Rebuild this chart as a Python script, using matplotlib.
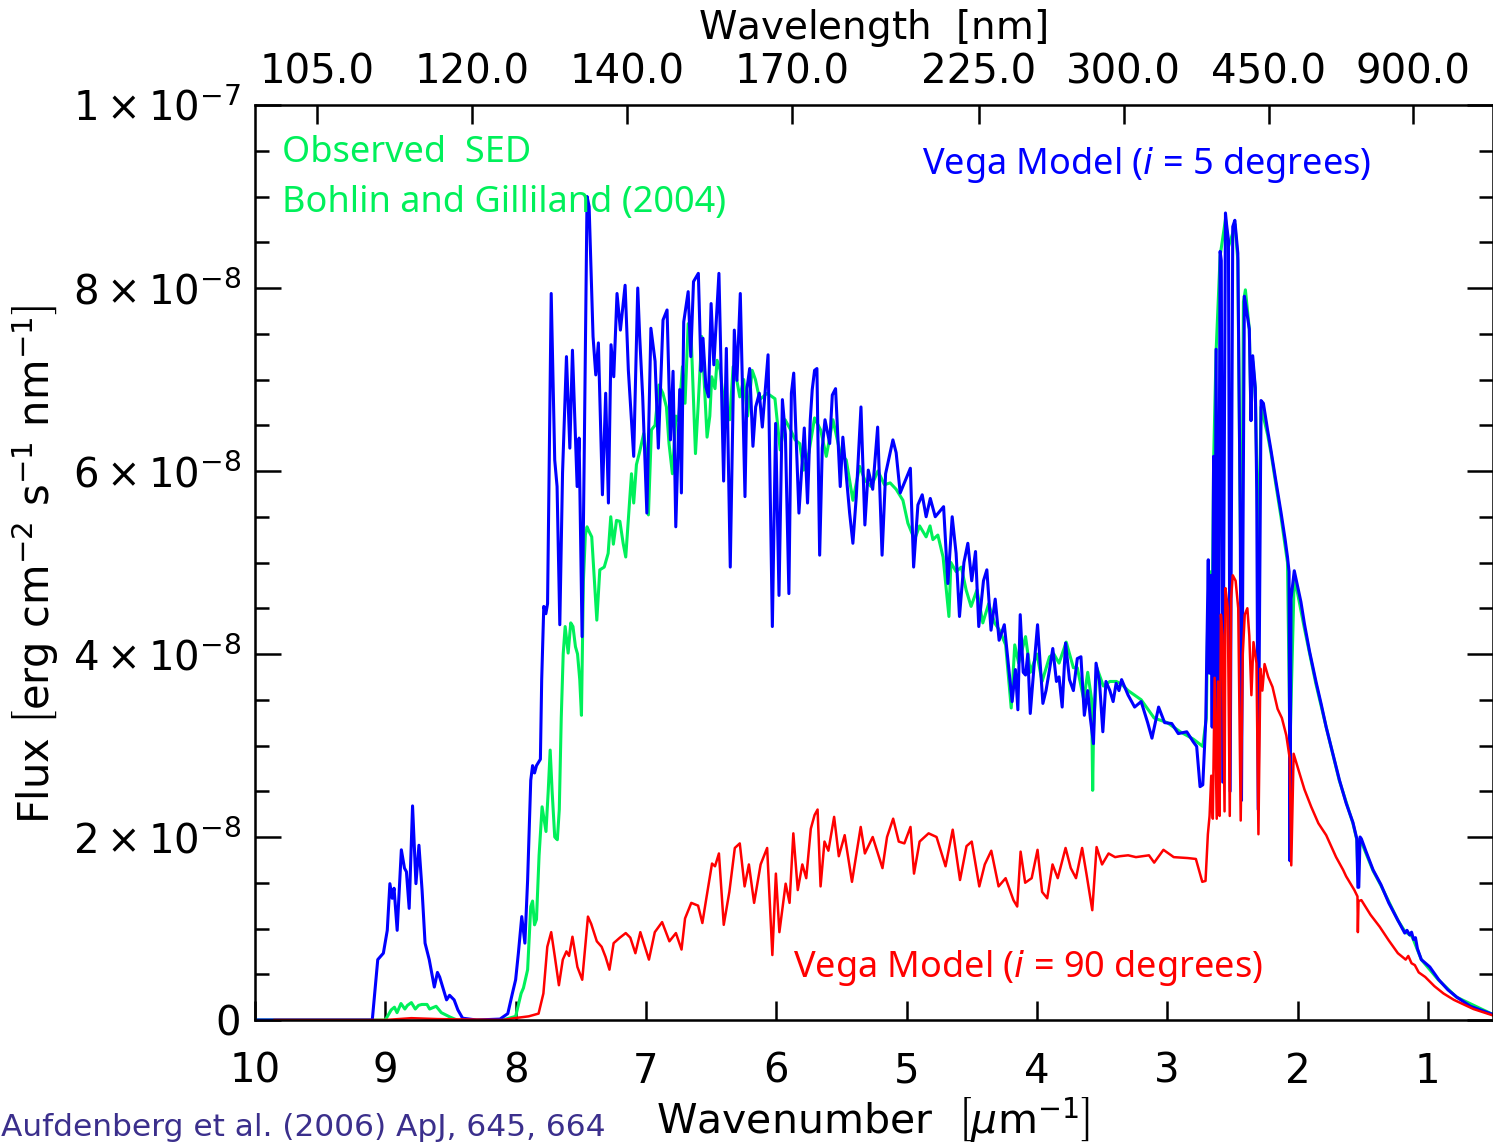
import matplotlib
matplotlib.use('Agg')
import matplotlib.pyplot as plt
import numpy as np
from matplotlib.ticker import MultipleLocator

# wavenumber [1/um] and flux [1e-8 erg cm-2 s-1 nm-1]
blue_wn = [10.0, 9.10, 9.058, 9.015, 8.985, 8.965, 8.947, 8.933, 8.909, 8.877, 8.853, 8.838, 8.817, 8.791,
           8.765, 8.742, 8.718, 8.695, 8.663, 8.624, 8.60, 8.583, 8.56, 8.53, 8.507, 8.472, 8.443, 8.407,
           8.30, 8.12, 8.06, 8.025, 8.00, 7.979, 7.953, 7.929, 7.908, 7.884, 7.87, 7.855, 7.84, 7.81,
           7.80, 7.784, 7.768, 7.755, 7.727, 7.70, 7.682, 7.661, 7.64, 7.61, 7.584, 7.564, 7.528, 7.513,
           7.49, 7.475, 7.452, 7.436, 7.406, 7.385, 7.365, 7.334, 7.309, 7.288, 7.268, 7.247, 7.222,
           7.196, 7.16, 7.135, 7.094, 7.063, 7.048, 7.025, 6.993, 6.962, 6.93, 6.905, 6.869, 6.838,
           6.812, 6.792, 6.771, 6.741, 6.728, 6.71, 6.676, 6.656, 6.635, 6.598, 6.577, 6.562, 6.54,
           6.52, 6.50, 6.479, 6.44, 6.404, 6.383, 6.353, 6.322, 6.302, 6.276, 6.24, 6.225, 6.204,
           6.179, 6.158, 6.13, 6.107, 6.063, 6.03, 6.005, 5.979, 5.953, 5.93, 5.903, 5.884, 5.866,
           5.826, 5.785, 5.76, 5.739, 5.724, 5.706, 5.688, 5.667, 5.647, 5.626, 5.59, 5.57, 5.545,
           5.509, 5.489, 5.437, 5.412, 5.386, 5.35, 5.32, 5.294, 5.26, 5.222, 5.188, 5.161, 5.105,
           5.08, 5.049, 4.971, 4.946, 4.913, 4.88, 4.85, 4.818, 4.78, 4.716, 4.683, 4.65, 4.62,
           4.594, 4.56, 4.53, 4.50, 4.471, 4.446, 4.41, 4.384, 4.352, 4.32, 4.29, 4.25, 4.22, 4.19,
           4.165, 4.146, 4.128, 4.105, 4.087, 4.07, 4.051, 4.02, 3.995, 3.975, 3.954, 3.93, 3.903,
           3.878, 3.85, 3.83, 3.806, 3.78, 3.75, 3.72, 3.69, 3.662, 3.636, 3.61, 3.59, 3.566, 3.546,
           3.52, 3.494, 3.47, 3.44, 3.415, 3.392, 3.37, 3.35, 3.30, 3.25, 3.20, 3.15, 3.117, 3.066,
           3.02, 2.965, 2.915, 2.85, 2.80, 2.774, 2.748, 2.727, 2.704, 2.685, 2.677, 2.664, 2.655,
           2.644, 2.635, 2.625, 2.61, 2.594, 2.585, 2.574, 2.553, 2.545, 2.53, 2.517, 2.497, 2.481,
           2.458, 2.44, 2.43, 2.408, 2.395, 2.37, 2.357, 2.344, 2.324, 2.313, 2.302, 2.28, 2.262,
           2.23, 2.204, 2.166, 2.127, 2.095, 2.077, 2.065, 2.058, 2.05, 2.025, 1.974, 1.947, 1.908,
           1.857, 1.818, 1.78, 1.729, 1.678, 1.627, 1.575, 1.545, 1.537, 1.53, 1.52, 1.51, 1.474,
           1.42, 1.36, 1.30, 1.23, 1.177, 1.16, 1.14, 1.125, 1.11, 1.095, 1.08, 1.05, 0.985, 0.916,
           0.846, 0.778, 0.673, 0.5]
blue_flux = [0.0, 0.0, 0.66, 0.73, 0.98, 1.49, 1.33, 1.44, 0.98, 1.86, 1.66, 1.62, 1.22, 2.34,
             1.49, 1.91, 1.42, 0.84, 0.66, 0.36, 0.52, 0.47, 0.36, 0.22, 0.27, 0.22, 0.11, 0.02,
             0.0, 0.01, 0.07, 0.29, 0.44, 0.73, 1.13, 0.84, 1.53, 2.62, 2.78, 2.70, 2.78, 2.85,
             3.72, 4.52, 4.44, 4.55, 7.94, 6.12, 5.83, 4.32, 5.98, 7.25, 6.25, 7.32, 5.83, 6.36,
             4.19, 6.0, 9.0, 8.89, 7.47, 7.05, 7.40, 5.74, 6.85, 5.65, 7.38, 7.03, 7.94,
             7.54, 8.03, 7.10, 6.16, 8.0, 7.47, 6.81, 5.54, 7.56, 7.2, 6.25, 7.65, 7.76,
             6.34, 7.09, 5.39, 6.89, 5.76, 7.63, 7.96, 7.25, 8.07, 8.16, 7.09, 7.45, 6.92,
             6.81, 7.83, 7.16, 8.16, 5.89, 7.34, 4.95, 7.54, 6.99, 7.94, 5.72, 6.90, 7.12,
             6.27, 6.70, 6.85, 6.48, 7.27, 4.30, 6.52, 4.64, 6.78, 6.4, 4.66, 6.85, 7.07,
             5.54, 6.47, 5.65, 6.56, 6.89, 7.10, 7.12, 5.08, 6.25, 6.56, 6.3, 6.83, 6.90,
             5.83, 6.37, 5.54, 5.21, 5.72, 6.70, 5.41, 6.01, 5.8, 6.48, 5.08, 5.97, 6.34,
             6.2, 5.76, 6.03, 4.95, 5.63, 5.74, 5.5, 5.70, 5.5, 5.61, 4.77, 5.50, 5.1,
             4.41, 5.0, 5.21, 4.8, 5.12, 4.30, 4.8, 4.92, 4.26, 4.6, 4.15, 4.32, 3.9, 3.48,
             3.83, 3.39, 4.43, 3.8, 3.77, 4.0, 3.35, 3.9, 4.32, 3.9, 3.46, 3.6, 3.83,
             4.06, 3.7, 3.75, 3.42, 4.12, 3.72, 3.6, 3.95, 3.97, 3.33, 3.6, 3.3, 3.02, 3.90,
             3.7, 3.15, 3.7, 3.6, 3.48, 3.68, 3.6, 3.72, 3.55, 3.42, 3.48, 3.25, 3.08, 3.42,
             3.25, 3.24, 3.13, 3.15, 3.04, 2.99, 2.55, 2.57, 3.28, 5.03, 3.79, 4.86, 3.2,
             6.16, 3.0, 7.33, 2.8, 8.40, 8.3, 2.6, 8.82, 8.7, 8.52, 2.5, 8.67, 8.74,
             8.38, 5.55, 2.4, 7.91, 7.79, 7.55, 6.55, 7.26, 6.91, 5.79, 2.3, 6.77, 6.74,
             6.45, 6.23, 5.89, 5.55, 5.25, 5.06, 4.9, 1.74, 4.6, 4.91, 4.57, 4.33, 4.03,
             3.69, 3.45, 3.20, 2.91, 2.62, 2.37, 2.16, 1.98, 1.45, 1.45, 2.0, 1.98, 1.84,
             1.64, 1.48, 1.28, 1.09, 0.95, 0.98, 0.93, 0.96, 0.88, 0.90, 0.78, 0.66, 0.58, 0.44,
             0.33, 0.25, 0.15, 0.06]

green_wn = [10.0, 9.0, 8.955, 8.93, 8.91, 8.88, 8.85, 8.83, 8.80, 8.77, 8.745, 8.72, 8.68, 8.66,
            8.61, 8.57, 8.50, 8.45, 8.1, 8.0, 7.958, 7.94, 7.908, 7.884, 7.87, 7.855, 7.84, 7.82,
            7.797, 7.767, 7.75, 7.735, 7.72, 7.70, 7.68, 7.665, 7.65, 7.635, 7.62, 7.597, 7.577,
            7.56, 7.541, 7.525, 7.508, 7.495, 7.48, 7.465, 7.452, 7.44, 7.416, 7.395, 7.377, 7.354,
            7.32, 7.29, 7.27, 7.25, 7.226, 7.2, 7.175, 7.155, 7.134, 7.111, 7.094, 7.073, 7.05,
            7.017, 7.0, 6.981, 6.958, 6.93, 6.90, 6.87, 6.843, 6.823, 6.797, 6.77, 6.75, 6.72,
            6.70, 6.676, 6.652, 6.62, 6.6, 6.572, 6.55, 6.531, 6.51, 6.495, 6.47, 6.454, 6.43,
            6.40, 6.38, 6.357, 6.331, 6.31, 6.28, 6.25, 6.22, 6.185, 6.16, 6.127, 6.07, 6.01,
            5.97, 5.932, 5.89, 5.855, 5.82, 5.79, 5.75, 5.706, 5.66, 5.616, 5.565, 5.51, 5.463,
            5.412, 5.36, 5.32, 5.272, 5.22, 5.17, 5.126, 5.08, 5.028, 4.99, 4.939, 4.90, 4.85,
            4.82, 4.798, 4.76, 4.72, 4.675, 4.66, 4.62, 4.58, 4.543, 4.505, 4.46, 4.415, 4.37,
            4.325, 4.287, 4.24, 4.197, 4.17, 4.14, 4.087, 4.05, 4.0, 3.96, 3.903, 3.87, 3.83,
            3.775, 3.72, 3.69, 3.64, 3.61, 3.58, 3.572, 3.565, 3.54, 3.49, 3.44, 3.39, 3.35,
            3.30, 3.20, 3.10, 3.0, 2.90, 2.80, 2.727, 2.70, 2.69, 2.675, 2.664, 2.655, 2.644,
            2.625, 2.594, 2.553, 2.53, 2.497, 2.481, 2.458, 2.44, 2.43, 2.415, 2.40, 2.37, 2.357,
            2.344, 2.324, 2.30, 2.28, 2.23, 2.204, 2.166, 2.127, 2.077, 2.058, 2.025, 1.95, 1.86,
            1.78, 1.68, 1.575, 1.545, 1.537, 1.52, 1.42, 1.36, 1.23, 1.177, 1.12, 1.05, 0.92,
            0.78, 0.5]
green_flux = [0.0, 0.0, 0.11, 0.14, 0.08, 0.18, 0.12, 0.16, 0.19, 0.12, 0.16, 0.17, 0.17, 0.12,
              0.15, 0.08, 0.03, 0.0, 0.0, 0.04, 0.29, 0.35, 0.55, 1.24, 1.3, 1.04, 1.10, 1.8,
              2.33, 2.06, 2.5, 2.95, 2.5, 2.0, 1.97, 2.3, 3.3, 4.0, 4.3, 4.01, 4.34,
              4.3, 4.08, 4.0, 3.72, 3.33, 4.8, 5.3, 5.39, 5.35, 5.28, 4.8, 4.37, 4.92,
              4.95, 5.10, 5.50, 5.2, 5.46, 5.45, 5.21, 5.06, 5.50, 5.97, 5.65, 6.07, 6.2,
              6.41, 6.2, 5.52, 6.45, 6.5, 6.94, 6.85, 6.70, 6.30, 5.97, 6.6, 6.55, 7.14,
              6.74, 7.61, 7.43, 6.19, 6.7, 7.47, 6.9, 6.37, 6.6, 7.03, 6.9, 7.21, 7.1,
              6.7, 6.65, 6.56, 7.14, 7.05, 6.81, 7.0, 6.6, 7.10, 7.0, 6.78, 6.85, 6.79,
              6.23, 6.56, 6.45, 6.34, 6.3, 6.01, 6.2, 6.58, 6.45, 6.16, 6.56, 6.2, 6.12,
              5.68, 6.05, 5.9, 5.83, 6.0, 5.85, 5.87, 5.8, 5.68, 5.43, 5.25, 5.4, 5.28,
              5.4, 5.25, 5.3, 5.06, 4.41, 5.0, 4.9, 4.95, 4.70, 4.52, 4.7, 4.34, 4.55,
              4.34, 4.26, 4.1, 3.41, 4.1, 3.9, 4.19, 3.8, 4.0, 3.7, 3.97, 4.0, 3.9,
              4.13, 3.85, 3.85, 3.5, 3.8, 3.5, 2.51, 3.2, 3.85, 3.65, 3.7, 3.7, 3.67,
              3.6, 3.5, 3.3, 3.25, 3.15, 3.07, 2.99, 3.3, 4.3, 4.3, 4.9, 4.3, 6.1,
              7.3, 8.35, 8.75, 8.45, 8.6, 8.7, 8.3, 5.5, 4.4, 7.85, 7.98, 7.55, 6.6,
              7.2, 6.9, 5.0, 6.7, 6.4, 6.2, 5.85, 5.5, 5.0, 3.0, 4.85, 4.3, 3.68,
              3.2, 2.62, 2.15, 1.97, 1.6, 1.98, 1.63, 1.47, 1.09, 0.97, 0.91, 0.66, 0.44,
              0.25, 0.06]

red_wn = [9.85, 9.0, 8.8, 8.6, 8.1, 8.01, 7.90, 7.824, 7.787, 7.757, 7.727, 7.70, 7.668, 7.638,
          7.61, 7.59, 7.564, 7.526, 7.489, 7.445, 7.42, 7.377, 7.34, 7.31, 7.28, 7.248, 7.20,
          7.155, 7.12, 7.081, 7.043, 6.977, 6.932, 6.876, 6.82, 6.77, 6.727, 6.70, 6.652, 6.60,
          6.567, 6.54, 6.493, 6.47, 6.44, 6.403, 6.36, 6.318, 6.28, 6.243, 6.21, 6.17, 6.12,
          6.07, 6.03, 6.003, 5.976, 5.928, 5.898, 5.869, 5.835, 5.80, 5.77, 5.735, 5.706, 5.683,
          5.66, 5.63, 5.60, 5.556, 5.52, 5.475, 5.419, 5.352, 5.32, 5.26, 5.185, 5.15, 5.103,
          5.06, 5.017, 4.97, 4.943, 4.90, 4.831, 4.77, 4.701, 4.646, 4.59, 4.54, 4.50, 4.442,
          4.40, 4.35, 4.294, 4.24, 4.18, 4.151, 4.125, 4.09, 4.04, 3.995, 3.96, 3.921, 3.88,
          3.84, 3.78, 3.74, 3.70, 3.653, 3.62, 3.575, 3.542, 3.50, 3.45, 3.40, 3.363, 3.30,
          3.24, 3.14, 3.10, 3.029, 2.95, 2.843, 2.78, 2.731, 2.706, 2.688, 2.675, 2.662, 2.65,
          2.636, 2.62, 2.61, 2.598, 2.588, 2.575, 2.56, 2.553, 2.535, 2.52, 2.51, 2.497, 2.475,
          2.455, 2.436, 2.42, 2.405, 2.385, 2.37, 2.354, 2.338, 2.315, 2.30, 2.285, 2.27, 2.253,
          2.225, 2.192, 2.153, 2.12, 2.086, 2.06, 2.048, 2.03, 1.99, 1.947, 1.895, 1.84, 1.78,
          1.704, 1.65, 1.627, 1.564, 1.54, 1.537, 1.532, 1.51, 1.44, 1.37, 1.30, 1.23, 1.17,
          1.15, 1.125, 1.10, 1.07, 1.02, 0.95, 0.88, 0.80, 0.74, 0.65, 0.5]
red_flux = [0.0, 0.0, 0.02, 0.01, 0.0, 0.02, 0.04, 0.07, 0.29, 0.80, 0.96, 0.7, 0.38, 0.66,
            0.75, 0.7, 0.91, 0.58, 0.44, 1.13, 1.05, 0.86, 0.8, 0.69, 0.55, 0.84, 0.9,
            0.95, 0.9, 0.73, 0.96, 0.66, 0.96, 1.07, 0.86, 0.95, 0.77, 1.11, 1.28, 1.25,
            1.06, 1.3, 1.71, 1.68, 1.82, 1.04, 1.4, 1.88, 1.93, 1.46, 1.7, 1.28, 1.7,
            1.88, 0.71, 1.60, 0.96, 1.49, 1.28, 2.04, 1.42, 1.7, 1.55, 2.09, 2.24, 2.30,
            1.46, 1.95, 1.85, 2.22, 1.79, 2.02, 1.51, 2.11, 1.82, 2.00, 1.66, 2.0, 2.20,
            1.95, 1.93, 2.11, 1.60, 1.95, 2.04, 2.0, 1.68, 2.08, 1.53, 1.9, 1.95, 1.46,
            1.7, 1.85, 1.46, 1.55, 1.31, 1.24, 1.84, 1.5, 1.55, 1.86, 1.4, 1.33, 1.7,
            1.55, 1.88, 1.66, 1.55, 1.88, 1.6, 1.20, 1.89, 1.7, 1.82, 1.78, 1.79, 1.80,
            1.78, 1.80, 1.72, 1.86, 1.78, 1.77, 1.76, 1.51, 1.52, 2.03, 2.23, 2.67, 2.2,
            3.74, 2.2, 3.7, 2.23, 4.43, 4.2, 2.28, 4.72, 4.5, 2.23, 4.6, 4.86, 4.8,
            4.5, 2.18, 4.0, 4.43, 4.5, 4.2, 3.55, 4.13, 3.9, 2.03, 3.84, 3.6, 3.89,
            3.75, 3.64, 3.40, 3.3, 3.11, 2.86, 1.69, 2.91, 2.72, 2.52, 2.33, 2.15, 2.02,
            1.78, 1.64, 1.57, 1.42, 1.35, 0.96, 1.3, 1.31, 1.15, 1.02, 0.87, 0.73, 0.66,
            0.70, 0.62, 0.6, 0.52, 0.47, 0.37, 0.29, 0.22, 0.18, 0.12, 0.05]

bottom_ticks = [1, 2, 3, 4, 5, 6, 7, 8, 9, 10]
top_wavelengths = [105.0, 120.0, 140.0, 170.0, 225.0, 300.0, 450.0, 900.0]
y_ticks = [0, 2e-8, 4e-8, 6e-8, 8e-8, 1e-7]
y_labels = ['0', r'$2\times10^{-8}$', r'$4\times10^{-8}$', r'$6\times10^{-8}$',
            r'$8\times10^{-8}$', r'$1\times10^{-7}$']

W, H = 1493, 1148


def fpos(x, y):
    return x / W, 1 - y / H


def plot_spectrum(out='out.png'):
    plt.rcParams['font.family'] = 'DejaVu Sans'
    fig = plt.figure(figsize=(W / 100, H / 100), dpi=100)
    ax = fig.add_axes([255 / W, 1 - 1020 / H, (W - 255) / W, (1020 - 105) / H])

    ax.plot(green_wn, np.array(green_flux) * 1e-8, color='#00f05a', lw=2.2)
    ax.plot(blue_wn, np.array(blue_flux) * 1e-8, color='#0000ff', lw=2.2)
    ax.plot(red_wn, np.array(red_flux) * 1e-8, color='#ff0000', lw=1.8)

    ax.set_xlim(10, 0.5)
    ax.set_ylim(0, 1e-7)
    ax.set_xticks(bottom_ticks)
    ax.set_xticklabels([str(t) for t in bottom_ticks])
    ax.set_yticks(y_ticks)
    ax.set_yticklabels(y_labels)
    ax.yaxis.set_minor_locator(MultipleLocator(0.5e-8))
    ax.tick_params(axis='x', which='major', direction='in', length=14, width=1.8,
                   labelsize=29, pad=23, top=False)
    ax.tick_params(axis='y', which='major', direction='in', length=19, width=1.8,
                   labelsize=29, pad=10, right=True)
    ax.tick_params(axis='y', which='minor', direction='in', length=10, width=1.8, right=True)
    for s in ax.spines.values():
        s.set_linewidth(1.8)

    ax2 = ax.twiny()
    ax2.set_xlim(ax.get_xlim())
    ax2.set_xticks([1000.0 / w for w in top_wavelengths])
    ax2.set_xticklabels(['%.1f' % w for w in top_wavelengths])
    ax2.tick_params(axis='x', direction='in', length=14, width=1.8, labelsize=29, pad=9)
    ax2.xaxis.set_minor_locator(plt.NullLocator())

    fig.text(*fpos(873, 28), r'Wavelength  $\left[\mathrm{nm}\right]$', fontsize=28,
             ha='center', va='center')
    fig.text(*fpos(873, 1120), r'Wavenumber  $\left[\mu\mathrm{m}^{-1}\right]$', fontsize=29.5,
             ha='center', va='center')
    fig.text(*fpos(35, 565), r'Flux $\left[\mathrm{erg\ cm^{-2}\ s^{-1}\ nm^{-1}}\right]$',
             fontsize=30, ha='center', va='center', rotation=90)

    fig.text(*fpos(1, 1127), 'Aufdenberg et al. (2006) ApJ, 645, 664', fontsize=22.5,
             color='#3b2f8c', ha='left', va='center')

    ann = dict(family='Noto Sans', fontsize=26, va='center', ha='left')
    fig.text(*fpos(282, 153), 'Observed  SED', color='#00f05a', **ann)
    fig.text(*fpos(282, 203), 'Bohlin and Gilliland (2004)', color='#00f05a', **ann)
    fig.text(*fpos(922, 165), r'Vega Model ($i$ = 5 degrees)', color='#0000ff', **ann)
    fig.text(*fpos(793, 968), r'Vega Model ($i$ = 90 degrees)', color='#ff0000', **ann)

    fig.savefig(out, dpi=100)
    plt.close(fig)


if __name__ == '__main__':
    plot_spectrum()
